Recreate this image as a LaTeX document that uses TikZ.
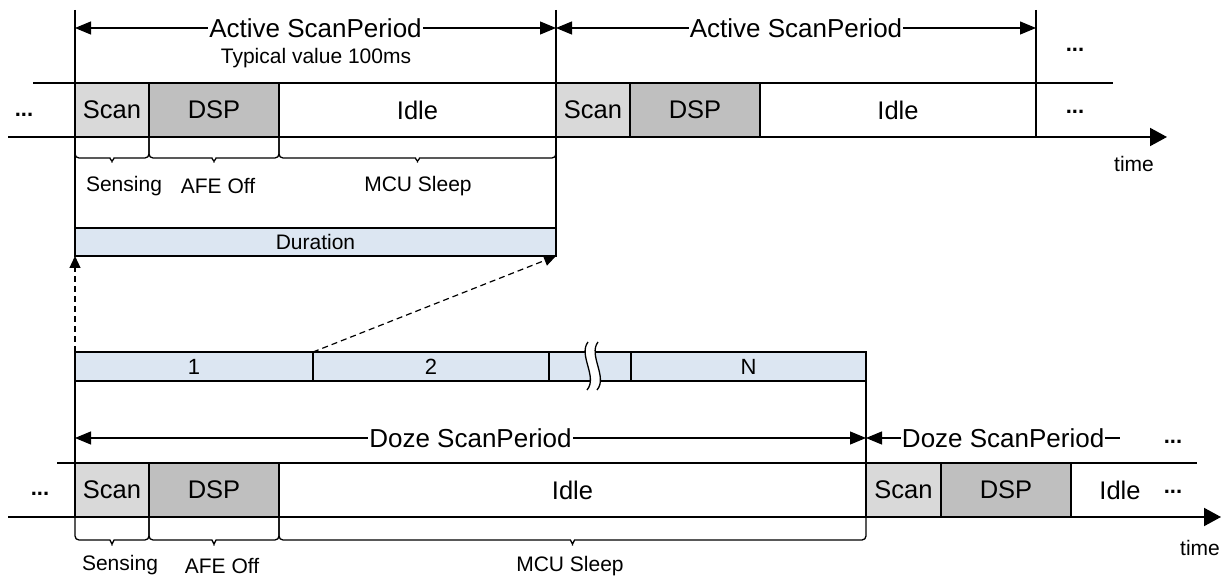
\documentclass[tikz,border=0pt]{standalone}
\usepackage{fontspec}
\setmainfont{Liberation Sans}
\usetikzlibrary{arrows.meta,positioning,calc}
\definecolor{scangray}{HTML}{D9D9D9}
\definecolor{dspgray}{HTML}{BFBFBF}
\definecolor{durblue}{HTML}{DCE6F2}
\tikzset{
    slot/.style={draw, line width=1.4pt, minimum height=54pt, inner sep=0pt, outer sep=0pt, font=\fontsize{25.5}{28}\selectfont},
    scanslot/.style={slot, fill=scangray, minimum width=74pt},
    dspslot/.style={slot, fill=dspgray, minimum width=130pt},
    seg/.style={draw, line width=1.4pt, fill=durblue, minimum height=29pt, inner sep=0pt, outer sep=0pt, font=\fontsize{22}{24}\selectfont},
    period/.style={{Triangle[length=16pt,width=13pt]}-{Triangle[length=16pt,width=13pt]}, line width=1.2pt},
    timeaxis/.style={-{Triangle[length=17pt,width=18pt]}, line width=2pt},
    rail/.style={line width=2pt},
    guide/.style={line width=1.3pt},
    hop/.style={-{Triangle[length=12pt,width=11pt]}, line width=1.2pt, dash pattern=on 6pt off 4pt},
    bracepath/.style={line width=1.3pt, rounded corners=4pt},
    big/.style={font=\fontsize{26}{28}\selectfont},
    small/.style={font=\fontsize{21}{24}\selectfont},
    dots/.style={font=\bfseries\fontsize{22}{24}\selectfont, inner sep=1pt}
}

\begin{document}
\begin{tikzpicture}[x=1pt, y=-1pt]
    \useasboundingbox (0,0) rectangle (1227,577);

    % active scan periods
    \node[scanslot, anchor=north west] (scanA) at (75,83) {Scan};
    \node[dspslot, right=0pt of scanA] (dspA) {DSP};
    \node[slot, minimum width=277pt, right=0pt of dspA] (idleA) {Idle};
    \node[scanslot, right=0pt of idleA] (scanB) {Scan};
    \node[dspslot, right=0pt of scanB] (dspB) {DSP};
    \node[slot, minimum width=276pt, right=0pt of dspB] (idleB) {Idle};

    \coordinate (railAw) at (33,83);
    \coordinate (railAe) at (1113,83);
    \coordinate (axisAw) at (8,137);
    \coordinate (axisAe) at (1167,137);
    \draw[rail] (railAw) -- (railAe);
    \draw[timeaxis] (axisAw) -- (axisAe);
    \node[small] (timeA) at (1134,164) {time};

    \node[dots] (dotsA1) at (24,115) {...};
    \node[dots] (dotsA2) at (1075,112) {...};
    \node[dots] (dotsA3) at (1075,50) {...};

    \coordinate (pA0) at (75,28);
    \coordinate (pA1) at (556,28);
    \coordinate (pA2) at (1036,28);
    \draw[guide] (75,10) -- (75,228);
    \draw[guide] (556,10) -- (556,228);
    \draw[guide] (1036,10) -- (idleB.north east);
    \draw[period] (pA0) -- (pA1) node[midway, big, fill=white, inner sep=1pt] (actA) {Active ScanPeriod};
    \draw[period] (pA1) -- (pA2) node[midway, big, fill=white, inner sep=1pt] (actB) {Active ScanPeriod};
    \node[small] (typ) at (316,58) {Typical value 100ms};

    \foreach \a/\b in {75/149,149/279,279/556} {
        \pgfmathsetmacro\m{(\a+\b)/2}
        \draw[bracepath] (\a,137) -- (\a,158) -- (\m-6,158)
            to[out=0,in=90] (\m,165) to[out=90,in=180] (\m+6,158)
            -- (\b,158) -- (\b,137);
    }
    \node[small] (senseA) at (124,186) {Sensing};
    \node[small] (afeA) at (218,186) {AFE Off};
    \node[small] (mcuA) at (418,186) {MCU Sleep};

    \node[seg, minimum width=481pt, minimum height=28pt, anchor=north west, font=\fontsize{21}{24}\selectfont] (dur) at (75,228) {Duration};

    % doze scan period split into durations
    \node[seg, minimum width=238pt, anchor=north west] (seg1) at (75,352) {1};
    \node[seg, minimum width=236pt, right=0pt of seg1] (seg2) {2};
    \node[seg, minimum width=82pt, right=0pt of seg2] (segGap) {};
    \node[seg, minimum width=235pt, right=0pt of segGap] (segN) {N};
    \fill[white] (588,342) .. controls (578,355) and (598,377) .. (587,390)
        -- (597,390) .. controls (608,377) and (588,355) .. (598,342) -- cycle;
    \draw[guide] (588,342) .. controls (578,355) and (598,377) .. (587,390);
    \draw[guide] (598,342) .. controls (588,355) and (608,377) .. (597,390);

    \draw[hop] (seg1.north west) -- (dur.south west);
    \draw[hop] (seg2.north west) -- (dur.south east);

    \node[scanslot, anchor=north west] (scanC) at (75,463) {Scan};
    \node[dspslot, right=0pt of scanC] (dspC) {DSP};
    \node[slot, minimum width=587pt, right=0pt of dspC] (idleC) {Idle};
    \node[scanslot, minimum width=75pt, right=0pt of idleC] (scanD) {Scan};
    \node[dspslot, right=0pt of scanD] (dspD) {DSP};
    \node[font=\fontsize{25.5}{28}\selectfont] (idleD) at (1120,490) {Idle};

    \coordinate (railCw) at (57,463);
    \coordinate (railCe) at (1197,463);
    \coordinate (axisCw) at (8,517);
    \coordinate (axisCe) at (1221,517);
    \draw[rail] (railCw) -- (railCe);
    \draw[timeaxis] (axisCw) -- (axisCe);
    \node[small] (timeC) at (1200,548) {time};

    \node[dots] (dotsC1) at (40,494) {...};
    \node[dots] (dotsC2) at (1173,492) {...};
    \node[dots] (dotsC3) at (1173,442) {...};

    \coordinate (pC0) at (75,438);
    \coordinate (pC1) at (866,438);
    \coordinate (pC2) at (1120,438);
    \draw[guide] (seg1.south west) -- (scanC.north west);
    \draw[guide] (segN.south east) -- (scanD.north west);
    \draw[period] (pC0) -- (pC1) node[midway, big, fill=white, inner sep=1pt] (dozeA) {Doze ScanPeriod};
    \draw[line width=1.2pt, {Triangle[length=16pt,width=13pt]}-] (pC1) -- (pC2) node[pos=0.54, big, fill=white, inner sep=1pt] (dozeB) {Doze ScanPeriod};

    \foreach \a/\b in {75/149,149/279,279/866} {
        \pgfmathsetmacro\m{(\a+\b)/2}
        \draw[bracepath] (\a,517) -- (\a,540) -- (\m-6,540)
            to[out=0,in=90] (\m,548) to[out=90,in=180] (\m+6,540)
            -- (\b,540) -- (\b,517);
    }
    \node[small] (senseC) at (120,565) {Sensing};
    \node[small] (afeC) at (222,566) {AFE Off};
    \node[small] (mcuC) at (570,566) {MCU Sleep};
\end{tikzpicture}
\end{document}
